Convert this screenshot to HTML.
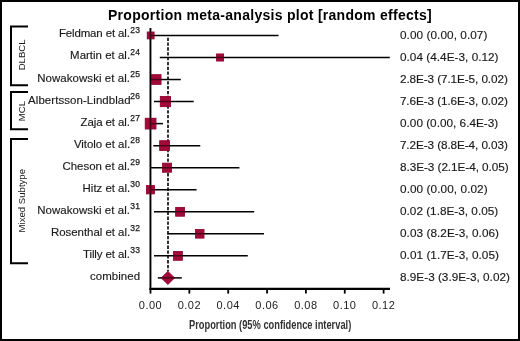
<!DOCTYPE html>
<html><head><meta charset="utf-8"><style>
html,body{margin:0;padding:0;background:#fff;}
body{width:520px;height:341px;overflow:hidden;position:relative;}
#frame{position:absolute;left:0;top:0;width:520px;height:341px;box-sizing:border-box;border:2px solid #000;}
svg{position:absolute;left:0;top:0;will-change:transform;}
text{font-family:"Liberation Sans",sans-serif;fill:#1a1a1a;}
.title{font-size:14px;font-weight:bold;fill:#000;letter-spacing:0.28px;}
.l{font-size:11px;stroke:#1a1a1a;stroke-width:0.15px;}
.sup{font-size:8.5px;letter-spacing:0.3px;stroke:#1a1a1a;stroke-width:0.25px;}
.v{font-size:11px;stroke:#1a1a1a;stroke-width:0.15px;}
.t{font-size:11px;letter-spacing:0.5px;fill:#222;}
.at{font-size:13.5px;font-weight:bold;fill:#333;}
.g{font-size:9.6px;}
</style></head><body>
<div id="frame"></div>
<svg width="520" height="341" viewBox="0 0 520 341">
<path d="M28 26.6H11V85.3H28" fill="none" stroke="#000" stroke-width="2"/>
<path d="M28 91.9H11V129.3H28" fill="none" stroke="#000" stroke-width="2"/>
<path d="M28 138.9H11V263.3H28" fill="none" stroke="#000" stroke-width="2"/>
<text transform="translate(25.2 54.9) rotate(-90)" text-anchor="middle" class="g">DLBCL</text>
<text transform="translate(25.2 111) rotate(-90)" text-anchor="middle" class="g">MCL</text>
<text transform="translate(25.2 200.7) rotate(-90)" text-anchor="middle" class="g">Mixed Subtype</text>
<line x1="168" y1="37.7" x2="168" y2="271.5" stroke="#000" stroke-width="1.6" stroke-dasharray="3.3 1.535"/>
<rect x="147.25" y="32.05" width="6.80" height="6.80" fill="#a40a3a" stroke="#80062a" stroke-width="0.8"/>
<rect x="216.60" y="53.99" width="7.00" height="7.00" fill="#a40a3a" stroke="#80062a" stroke-width="0.8"/>
<rect x="151.40" y="74.73" width="9.60" height="9.60" fill="#a40a3a" stroke="#80062a" stroke-width="0.8"/>
<rect x="160.30" y="96.47" width="10.20" height="10.20" fill="#a40a3a" stroke="#80062a" stroke-width="0.8"/>
<rect x="145.25" y="118.26" width="10.70" height="10.70" fill="#a40a3a" stroke="#80062a" stroke-width="0.8"/>
<rect x="159.70" y="140.75" width="9.80" height="9.80" fill="#a40a3a" stroke="#80062a" stroke-width="0.8"/>
<rect x="162.50" y="163.19" width="9.00" height="9.00" fill="#a40a3a" stroke="#80062a" stroke-width="0.8"/>
<rect x="146.40" y="185.63" width="8.20" height="8.20" fill="#a40a3a" stroke="#80062a" stroke-width="0.8"/>
<rect x="175.70" y="207.37" width="8.80" height="8.80" fill="#a40a3a" stroke="#80062a" stroke-width="0.8"/>
<rect x="195.45" y="229.56" width="8.50" height="8.50" fill="#a40a3a" stroke="#80062a" stroke-width="0.8"/>
<rect x="173.50" y="251.45" width="8.80" height="8.80" fill="#a40a3a" stroke="#80062a" stroke-width="0.8"/>
<path d="M167.9 271.39L174.5 277.89L167.9 284.39L161.3 277.89Z" fill="#a40a3a" stroke="#80062a" stroke-width="0.8" stroke-linejoin="miter"/>
<line x1="150.5" y1="35.45" x2="278.5" y2="35.45" stroke="#000" stroke-width="1.5"/>
<line x1="159.8" y1="57.49" x2="389.8" y2="57.49" stroke="#000" stroke-width="1.5"/>
<line x1="150.5" y1="79.53" x2="180.8" y2="79.53" stroke="#000" stroke-width="1.5"/>
<line x1="154" y1="101.57" x2="193.7" y2="101.57" stroke="#000" stroke-width="1.5"/>
<line x1="150.5" y1="123.61" x2="163" y2="123.61" stroke="#000" stroke-width="1.5"/>
<line x1="153.3" y1="145.65" x2="200.3" y2="145.65" stroke="#000" stroke-width="1.5"/>
<line x1="150.5" y1="167.69" x2="239.4" y2="167.69" stroke="#000" stroke-width="1.5"/>
<line x1="150.5" y1="189.73" x2="196.6" y2="189.73" stroke="#000" stroke-width="1.5"/>
<line x1="154" y1="211.77" x2="254.2" y2="211.77" stroke="#000" stroke-width="1.5"/>
<line x1="167.4" y1="233.81" x2="264" y2="233.81" stroke="#000" stroke-width="1.5"/>
<line x1="154" y1="255.85" x2="247.8" y2="255.85" stroke="#000" stroke-width="1.5"/>
<line x1="157.8" y1="277.89" x2="181.8" y2="277.89" stroke="#000" stroke-width="1.5"/>
<line x1="150.45" y1="28" x2="150.45" y2="290" stroke="#000" stroke-width="1.9"/>
<line x1="149.5" y1="288.85" x2="390" y2="288.85" stroke="#000" stroke-width="2.1"/>
<rect x="146.85" y="31.65" width="7.6" height="7.6" fill="#a40a3a" fill-opacity="0.45"/>
<rect x="216.20" y="53.59" width="7.8" height="7.8" fill="#a40a3a" fill-opacity="0.45"/>
<rect x="151.00" y="74.33" width="10.4" height="10.4" fill="#a40a3a" fill-opacity="0.45"/>
<rect x="159.90" y="96.07" width="11" height="11" fill="#a40a3a" fill-opacity="0.45"/>
<rect x="144.85" y="117.86" width="11.5" height="11.5" fill="#a40a3a" fill-opacity="0.45"/>
<rect x="159.30" y="140.35" width="10.6" height="10.6" fill="#a40a3a" fill-opacity="0.45"/>
<rect x="162.10" y="162.79" width="9.8" height="9.8" fill="#a40a3a" fill-opacity="0.45"/>
<rect x="146.00" y="185.23" width="9.0" height="9.0" fill="#a40a3a" fill-opacity="0.45"/>
<rect x="175.30" y="206.97" width="9.6" height="9.6" fill="#a40a3a" fill-opacity="0.45"/>
<rect x="195.05" y="229.16" width="9.3" height="9.3" fill="#a40a3a" fill-opacity="0.45"/>
<rect x="173.10" y="251.05" width="9.6" height="9.6" fill="#a40a3a" fill-opacity="0.45"/>
<path d="M167.9 270.99L174.9 277.89L167.9 284.79L160.9 277.89Z" fill="#a40a3a" fill-opacity="0.45"/>
<line x1="150.50" y1="289" x2="150.50" y2="293.6" stroke="#000" stroke-width="1.8"/>
<text x="150.50" y="308.5" text-anchor="middle" class="t">0.00</text>
<line x1="189.35" y1="289" x2="189.35" y2="293.6" stroke="#000" stroke-width="1.8"/>
<text x="189.35" y="308.5" text-anchor="middle" class="t">0.02</text>
<line x1="228.20" y1="289" x2="228.20" y2="293.6" stroke="#000" stroke-width="1.8"/>
<text x="228.20" y="308.5" text-anchor="middle" class="t">0.04</text>
<line x1="267.05" y1="289" x2="267.05" y2="293.6" stroke="#000" stroke-width="1.8"/>
<text x="267.05" y="308.5" text-anchor="middle" class="t">0.06</text>
<line x1="305.90" y1="289" x2="305.90" y2="293.6" stroke="#000" stroke-width="1.8"/>
<text x="305.90" y="308.5" text-anchor="middle" class="t">0.08</text>
<line x1="344.75" y1="289" x2="344.75" y2="293.6" stroke="#000" stroke-width="1.8"/>
<text x="344.75" y="308.5" text-anchor="middle" class="t">0.10</text>
<line x1="383.60" y1="289" x2="383.60" y2="293.6" stroke="#000" stroke-width="1.8"/>
<text x="383.60" y="308.5" text-anchor="middle" class="t">0.12</text>
<text x="0" y="0" transform="translate(189 328.5) scale(0.69 1)" class="at">Proportion (95% confidence interval)</text>
<text x="140.3" y="32.85" text-anchor="end" class="sup">23</text>
<text transform="translate(129.84 37.45) scale(1.04 1)" text-anchor="end" class="l" style="letter-spacing:-0.105px">Feldman et al.</text>
<text x="140.3" y="54.89" text-anchor="end" class="sup">24</text>
<text transform="translate(130.08 59.49) scale(1.04 1)" text-anchor="end" class="l" style="letter-spacing:0.016px">Martin et al.</text>
<text x="140.3" y="76.93" text-anchor="end" class="sup">25</text>
<text transform="translate(130.11 81.53) scale(1.04 1)" text-anchor="end" class="l" style="letter-spacing:0.075px">Nowakowski et al.</text>
<text x="140.3" y="98.97" text-anchor="end" class="sup">26</text>
<text transform="translate(130.74 103.57) scale(1.04 1)" text-anchor="end" class="l" style="letter-spacing:0.079px">Albertsson-Lindblad</text>
<text x="140.3" y="121.01" text-anchor="end" class="sup">27</text>
<text transform="translate(129.84 125.61) scale(1.04 1)" text-anchor="end" class="l" style="letter-spacing:-0.087px">Zaja et al.</text>
<text x="140.3" y="143.05" text-anchor="end" class="sup">28</text>
<text transform="translate(130.08 147.65) scale(1.04 1)" text-anchor="end" class="l" style="letter-spacing:-0.015px">Vitolo et al.</text>
<text x="140.3" y="165.09" text-anchor="end" class="sup">29</text>
<text transform="translate(129.92 169.69) scale(1.04 1)" text-anchor="end" class="l" style="letter-spacing:0.004px">Cheson et al.</text>
<text x="140.3" y="187.13" text-anchor="end" class="sup">30</text>
<text transform="translate(130.08 191.73) scale(1.04 1)" text-anchor="end" class="l" style="letter-spacing:-0.018px">Hitz et al.</text>
<text x="140.3" y="209.17" text-anchor="end" class="sup">31</text>
<text transform="translate(130.11 213.77) scale(1.04 1)" text-anchor="end" class="l" style="letter-spacing:0.075px">Nowakowski et al.</text>
<text x="140.3" y="231.21" text-anchor="end" class="sup">32</text>
<text transform="translate(130.08 235.81) scale(1.04 1)" text-anchor="end" class="l" style="letter-spacing:-0.021px">Rosenthal et al.</text>
<text x="140.3" y="253.25" text-anchor="end" class="sup">33</text>
<text transform="translate(129.84 257.85) scale(1.04 1)" text-anchor="end" class="l" style="letter-spacing:-0.079px">Tilly et al.</text>
<text transform="translate(140.16 279.89) scale(1.04 1)" text-anchor="end" class="l" style="letter-spacing:0.073px">combined</text>
<text transform="translate(400.01 39.00) scale(1.07 1)" class="v" style="letter-spacing:0.065px">0.00 (0.00, 0.07)</text>
<text transform="translate(400.01 61.04) scale(1.07 1)" class="v" style="letter-spacing:0.027px">0.04 (4.4E-3, 0.12)</text>
<text transform="translate(399.99 83.08) scale(1.07 1)" class="v" style="letter-spacing:-0.091px">2.8E-3 (7.1E-5, 0.02)</text>
<text transform="translate(399.89 105.12) scale(1.07 1)" class="v" style="letter-spacing:-0.084px">7.6E-3 (1.6E-3, 0.02)</text>
<text transform="translate(400.01 127.16) scale(1.07 1)" class="v" style="letter-spacing:0.009px">0.00 (0.00, 6.4E-3)</text>
<text transform="translate(399.89 149.20) scale(1.07 1)" class="v" style="letter-spacing:-0.084px">7.2E-3 (8.8E-4, 0.03)</text>
<text transform="translate(400.01 171.24) scale(1.07 1)" class="v" style="letter-spacing:-0.051px">8.3E-3 (2.1E-4, 0.05)</text>
<text transform="translate(400.01 193.28) scale(1.07 1)" class="v" style="letter-spacing:0.082px">0.00 (0.00, 0.02)</text>
<text transform="translate(400.01 215.32) scale(1.07 1)" class="v" style="letter-spacing:0.009px">0.02 (1.8E-3, 0.05)</text>
<text transform="translate(400.01 237.36) scale(1.07 1)" class="v" style="letter-spacing:0.051px">0.03 (8.2E-3, 0.06)</text>
<text transform="translate(400.01 259.40) scale(1.07 1)" class="v" style="letter-spacing:0.045px">0.01 (1.7E-3, 0.05)</text>
<text transform="translate(400.01 281.44) scale(1.07 1)" class="v" style="letter-spacing:0.006px">8.9E-3 (3.9E-3, 0.02)</text>
<text x="108" y="19.6" class="title">Proportion meta-analysis plot [random effects]</text>
</svg>
</body></html>
